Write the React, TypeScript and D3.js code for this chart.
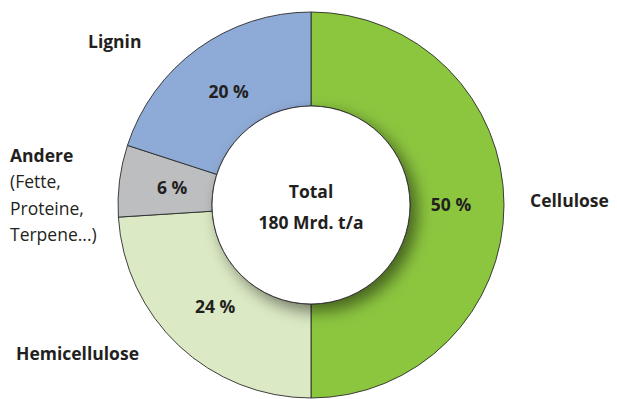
import React from "react";
import * as d3 from "d3";

const categories = ["Cellulose", "Hemicellulose", "Andere", "Lignin"];
const shares = [50, 24, 6, 20];
const valueLabels = ["50 %", "24 %", "6 %", "20 %"];
const sliceColors = ["#8cc63f", "#dbe9c4", "#bcbec0", "#8eabd7"];
const andereSubLines = ["(Fette,", "Proteine,", "Terpene...)"];
const centerLines = ["Total", "180 Mrd. t/a"];

const W = 617;
const H = 399;
const cx = 311;
const cy = 205;
const R = 193;
const r = 99;
const FONT = "'Open Sans', sans-serif";
const TXT = "#231f20";

export default function App() {
  const pie = d3
    .pie<number>()
    .sort(null)
    .value((d) => d)
    .startAngle(0)
    .endAngle(2 * Math.PI);
  const arcs = pie(shares);
  const arcGen = d3.arc<d3.PieArcDatum<number>>().innerRadius(r).outerRadius(R);
  const labelArc = d3.arc<d3.PieArcDatum<number>>().innerRadius(140).outerRadius(140);

  // outer label anchors (layout)
  const outer: Record<string, { x: number; y: number; anchor: string }> = {
    Cellulose: { x: 530, y: 207, anchor: "start" },
    Hemicellulose: { x: 16, y: 360, anchor: "start" },
    Andere: { x: 10, y: 162, anchor: "start" },
    Lignin: { x: 88, y: 48, anchor: "start" },
  };

  return (
    <svg
      width={W}
      height={H}
      style={{ position: "absolute", left: 0, top: 0, background: "#fff" }}
    >
      <defs>
        <filter id="sh" x="-30%" y="-30%" width="160%" height="160%">
          <feGaussianBlur in="SourceAlpha" stdDeviation="8" />
          <feOffset dx="7" dy="7" result="b" />
          <feComponentTransfer>
            <feFuncA type="linear" slope="0.5" />
          </feComponentTransfer>
          <feMerge>
            <feMergeNode />
            <feMergeNode in="SourceGraphic" />
          </feMerge>
        </filter>
        <clipPath id="ring">
          <circle cx={cx} cy={cy} r={R} />
        </clipPath>
      </defs>
      <g transform={`translate(${cx},${cy})`}>
        {arcs.map((a, i) => (
          <path
            key={categories[i]}
            d={arcGen(a) || ""}
            fill={sliceColors[i]}
            stroke="#2b2b2b"
            strokeWidth={0.9}
          />
        ))}
      </g>
      <g clipPath="url(#ring)">
        <circle
          cx={cx}
          cy={cy}
          r={r}
          fill="#fff"
          stroke="#2b2b2b"
          strokeWidth={0.9}
          filter="url(#sh)"
        />
      </g>
      <g transform={`translate(${cx},${cy})`}>
        {arcs.map((a, i) => {
          const [x, y] = labelArc.centroid(a);
          return (
            <text
              key={"v" + i}
              x={x}
              y={y}
              dy="0.35em"
              textAnchor="middle"
              fontFamily={FONT}
              fontWeight="bold"
              fontSize={17.5}
              fill={TXT}
            >
              {valueLabels[i]}
            </text>
          );
        })}
      </g>
      {categories.map((c) => (
        <text
          key={c}
          x={outer[c].x}
          y={outer[c].y}
          textAnchor={outer[c].anchor}
          fontFamily={FONT}
          fontWeight="bold"
          fontSize={17.5}
          fill={TXT}
        >
          {c}
        </text>
      ))}
      {andereSubLines.map((t, i) => (
        <text
          key={t}
          x={10}
          y={188 + i * 26.5}
          fontFamily={FONT}
          fontSize={17.5}
          fill={TXT}
        >
          {t}
        </text>
      ))}
      {centerLines.map((t, i) => (
        <text
          key={t}
          x={cx}
          y={198 + i * 31}
          textAnchor="middle"
          fontFamily={FONT}
          fontWeight="bold"
          fontSize={17.5}
          fill={TXT}
        >
          {t}
        </text>
      ))}
    </svg>
  );
}
